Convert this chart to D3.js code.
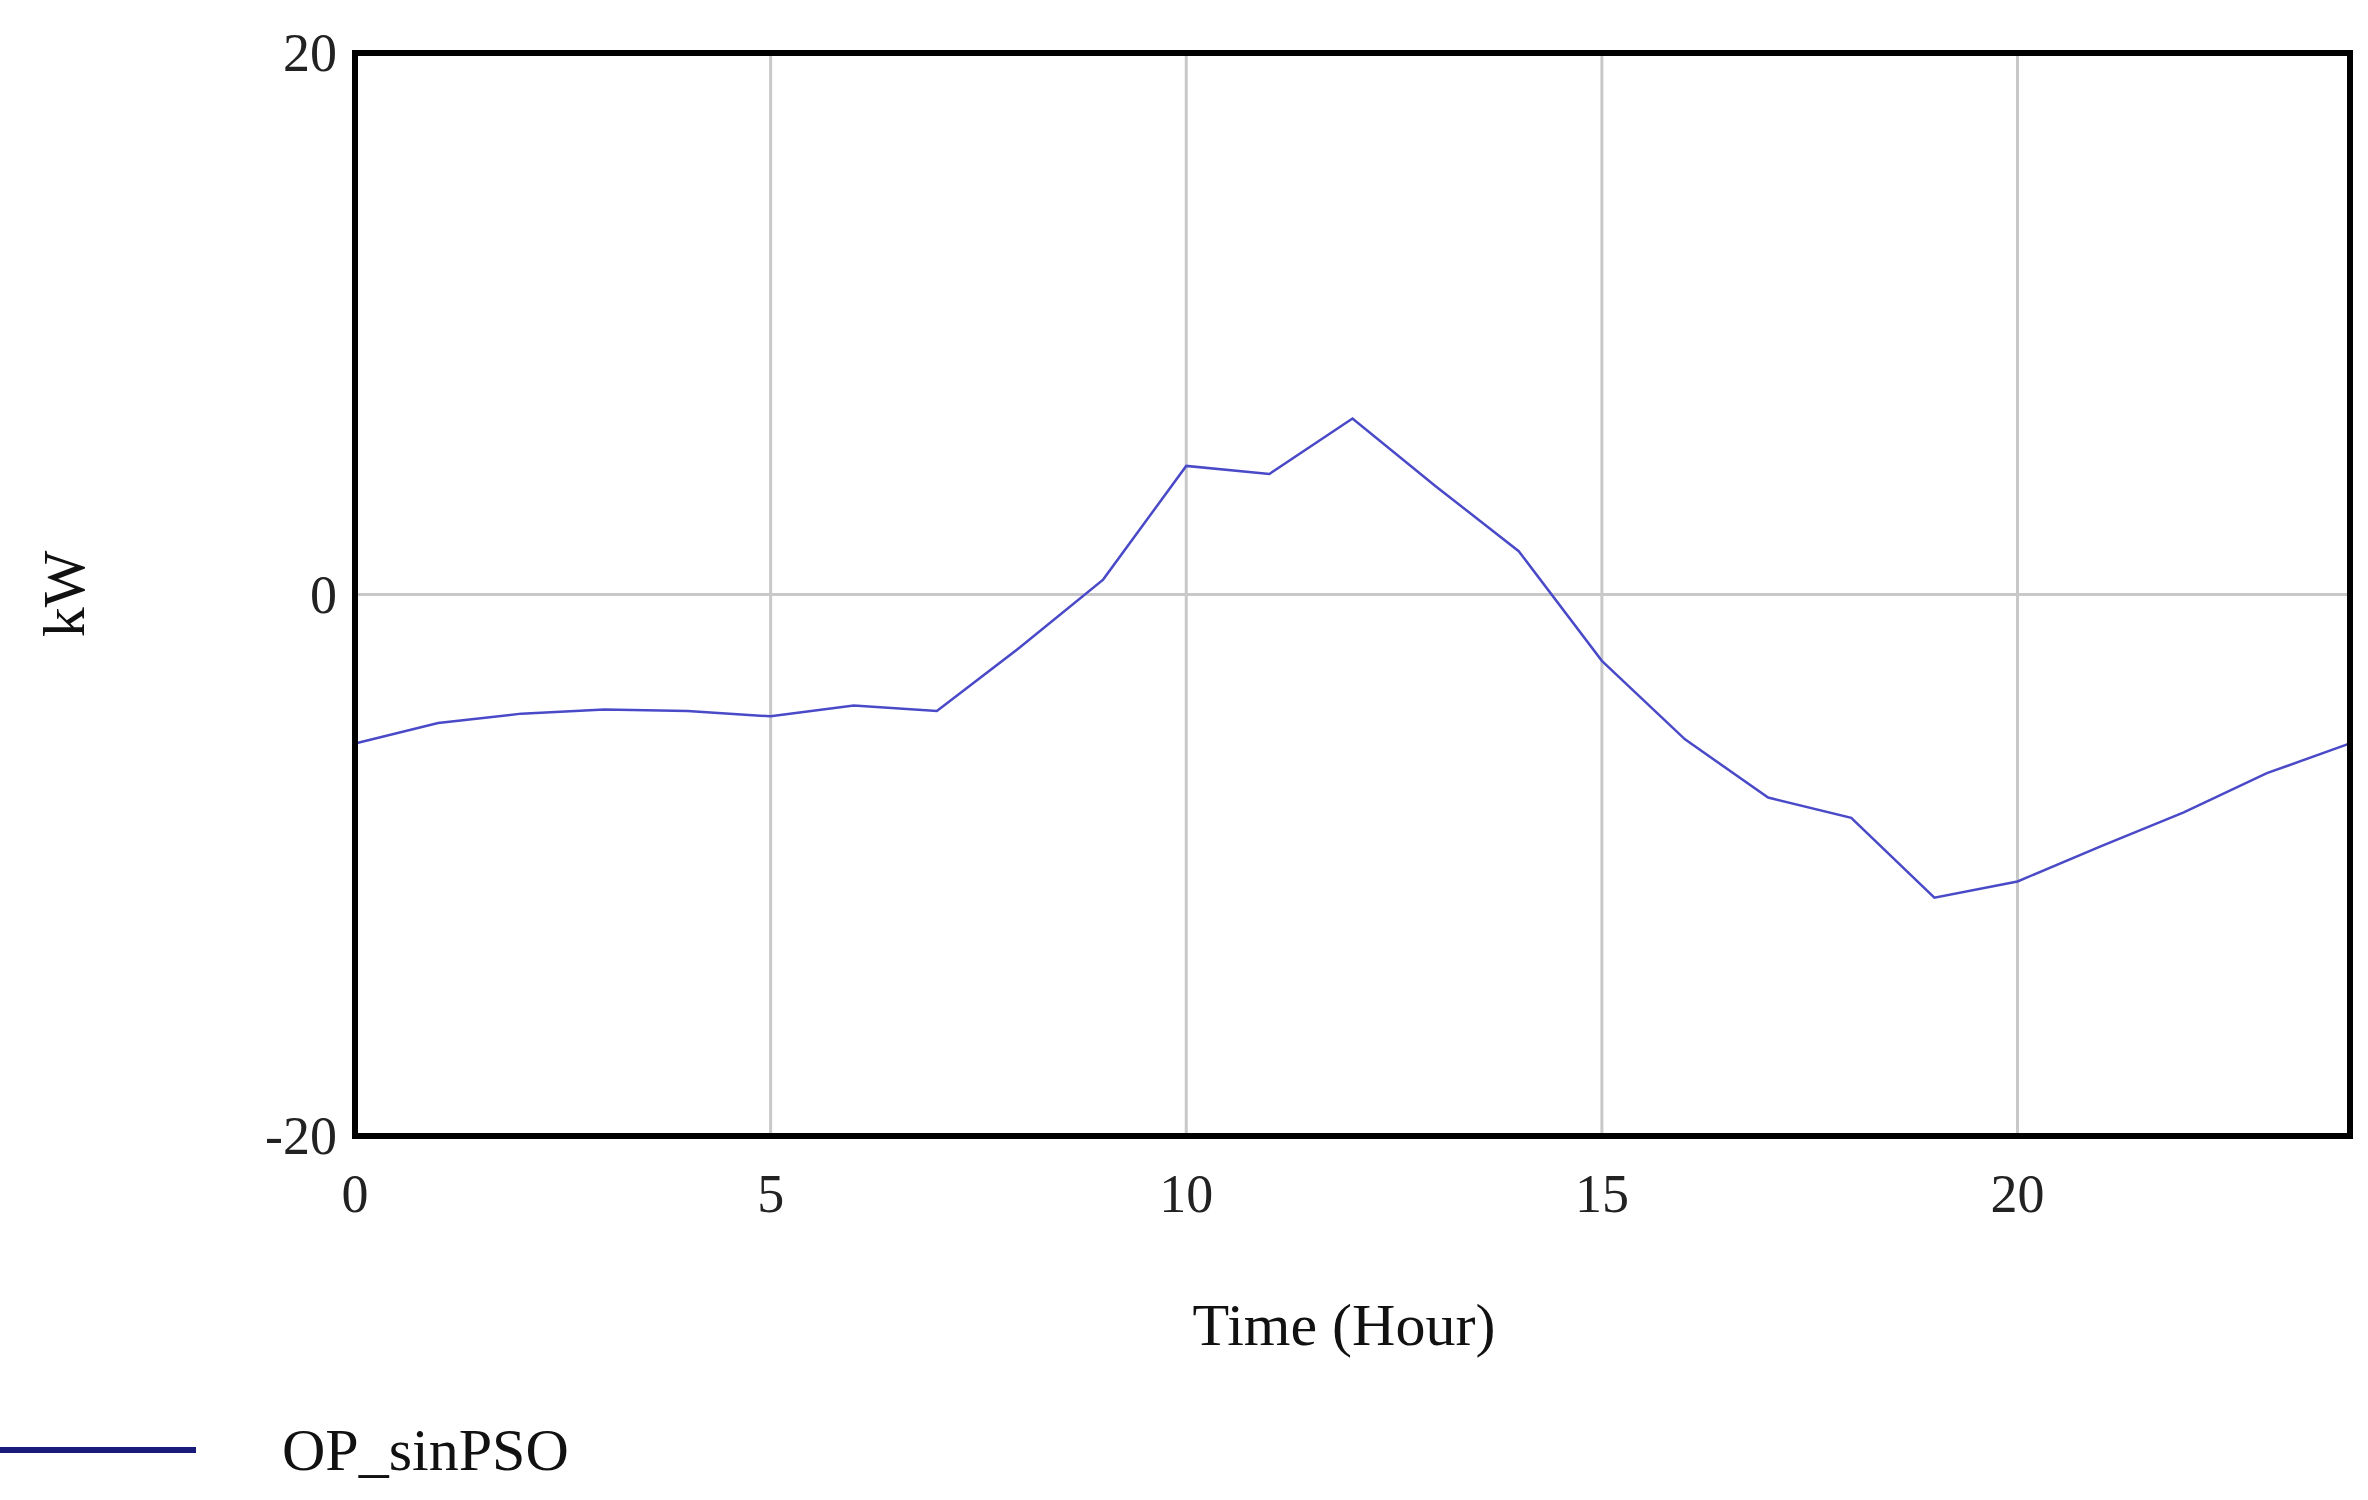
<!DOCTYPE html>
<html><head><meta charset="utf-8">
<script src="https://cdn.jsdelivr.net/npm/d3@7"></script>
<style>body{margin:0;background:#fff}</style></head>
<body><svg id="c" width="2368" height="1500"></svg>
<script>
const hours = [0,1,2,3,4,5,6,7,8,9,10,11,12,13,14,15,16,17,18,19,20,21,22,23,24];
const values = [-5.5,-4.75,-4.4,-4.25,-4.3,-4.5,-4.1,-4.3,-1.95,0.55,4.75,4.45,6.5,4.0,1.6,-2.45,-5.35,-7.5,-8.25,-11.2,-10.6,-9.3,-8.05,-6.6,-5.5];
const xTicks = [0,5,10,15,20];
const yTicks = [-20,0,20];
const seriesName = "OP_sinPSO";

const svg = d3.select("#c");
const L=355,R=2350,T=53,B=1136;
const x = d3.scaleLinear().domain([0,24]).range([L,R]);
const y = d3.scaleLinear().domain([-20,20]).range([B,T]);
const font = "'Liberation Serif', 'Times New Roman', serif";

svg.append("g").selectAll("line").data(xTicks.filter(d=>d>0)).join("line")
  .attr("x1",d=>x(d)).attr("x2",d=>x(d)).attr("y1",T).attr("y2",B)
  .attr("stroke","#c8c8c8").attr("stroke-width",3);
svg.append("g").selectAll("line").data(yTicks.filter(d=>d!==-20&&d!==20)).join("line")
  .attr("y1",d=>y(d)).attr("y2",d=>y(d)).attr("x1",L).attr("x2",R)
  .attr("stroke","#c8c8c8").attr("stroke-width",3);

svg.append("path").datum(hours.map((h,i)=>[h,values[i]]))
  .attr("d",d3.line().x(d=>x(d[0])).y(d=>y(d[1])))
  .attr("fill","none").attr("stroke","#4a4ac8").attr("stroke-width",2.5);

svg.append("rect").attr("x",L).attr("y",T).attr("width",R-L).attr("height",B-T)
  .attr("fill","none").attr("stroke","#000").attr("stroke-width",6);

svg.append("g").selectAll("text").data(yTicks).join("text")
  .attr("x",L-18).attr("y",d=>y(d)+18).attr("text-anchor","end")
  .attr("font-family",font).attr("font-size",54).attr("fill","#222").text(d=>d);
svg.append("g").selectAll("text").data(xTicks).join("text")
  .attr("x",d=>x(d)).attr("y",B+76).attr("text-anchor","middle")
  .attr("font-family",font).attr("font-size",54).attr("fill","#222").text(d=>d);

svg.append("text").attr("x",1344).attr("y",1345).attr("text-anchor","middle")
  .attr("font-family",font).attr("font-size",60).attr("fill","#111").text("Time (Hour)");
svg.append("text").attr("transform","translate(84,594) rotate(-90)").attr("text-anchor","middle")
  .attr("font-family",font).attr("font-size",60).attr("fill","#111").text("kW");

svg.append("line").attr("x1",0).attr("x2",196).attr("y1",1450).attr("y2",1450)
  .attr("stroke","#1a1a7a").attr("stroke-width",6);
svg.append("text").attr("x",282).attr("y",1470).attr("font-family",font)
  .attr("font-size",60).attr("fill","#111").text(seriesName);
</script></body></html>
